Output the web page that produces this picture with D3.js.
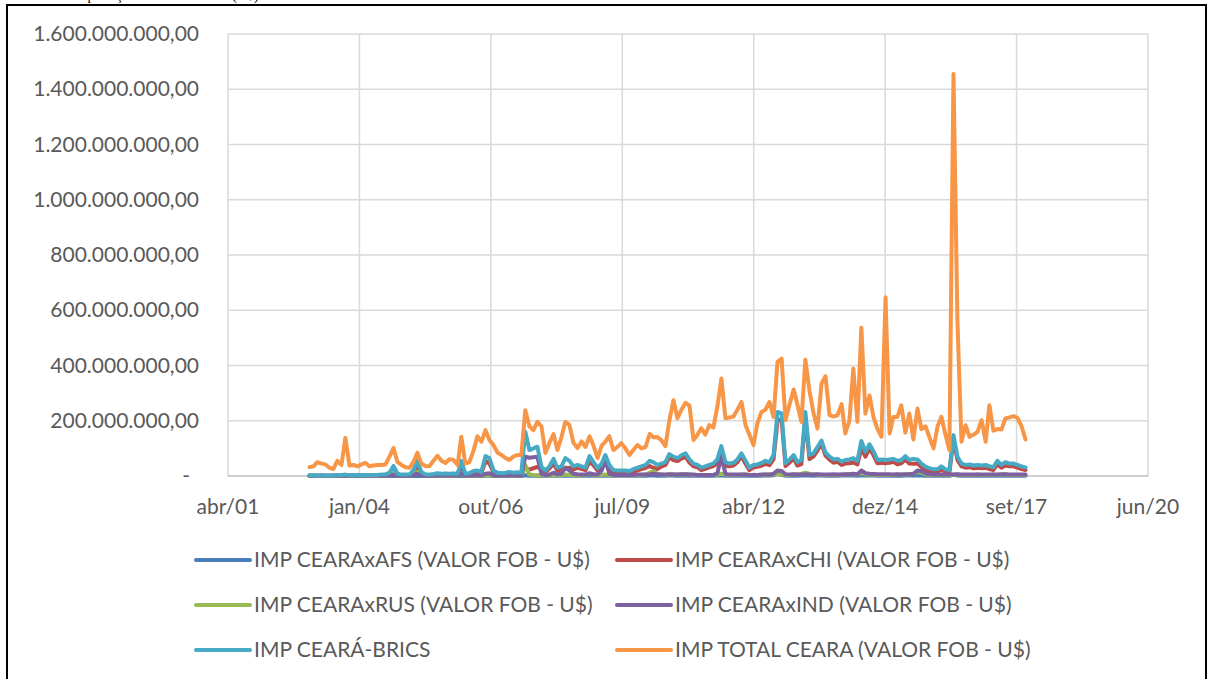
<!DOCTYPE html>
<html>
<head>
<meta charset="utf-8">
<script src="https://cdn.jsdelivr.net/npm/d3@7"></script>
<style>
  body { margin: 0; background: #fff; }
  svg { display: block; }
</style>
</head>
<body>
<div class="chart"></div>
<script>
// valores mensais em milhões de US$, jan/2003 a dez/2017
const firstMonth = new Date(2003, 0, 1)
const lastMonth = new Date(2017, 11, 1)

const impAFS = [
  0,0,0,0,0,0,0,0,0,0,0,0,0,0,0,0,0,0,0,0,
  0,1,0,0,0,0,0,1,0,0,0,0,0,0,0,0,0,0,1,0,
  0,0,1,0,1,1,0,0,0,0,0,0,0,0,3,1,1,1,0,0,
  1,1,1,1,1,1,1,1,1,1,2,1,1,1,2,1,1,1,1,1,
  1,1,1,1,1,2,2,1,1,1,2,2,1,1,2,1,1,1,1,1,
  1,1,2,2,1,1,1,1,2,1,1,1,1,1,2,2,3,8,4,1,
  1,2,1,2,3,2,1,2,2,1,1,1,1,2,2,2,2,1,3,2,
  2,2,1,1,1,1,1,1,1,2,2,2,3,2,1,1,1,1,1,1,
  1,5,2,1,1,1,1,1,1,1,1,1,2,1,1,1,1,1,1,1
]
const impCHI = [
  2,2,1,2,1,1,2,2,2,3,2,2,3,2,3,2,3,3,3,4,
  7,19,4,3,3,4,8,32,10,4,3,5,7,5,6,5,6,5,37,5,
  7,13,14,10,55,45,15,9,7,9,10,9,9,8,30,23,28,33,23,14,
  27,45,20,23,29,30,23,30,26,21,53,39,20,30,55,27,14,12,12,12,
  10,17,20,25,29,36,30,25,34,40,67,58,54,63,69,49,35,31,21,26,
  31,36,44,90,36,35,38,50,71,44,21,31,33,37,44,39,61,200,205,36,
  49,63,38,43,212,61,70,92,117,74,59,48,51,40,45,46,49,42,100,70,
  100,76,46,48,46,48,51,42,46,59,45,44,45,33,22,18,14,15,24,14,
  12,135,58,35,30,32,28,30,28,30,25,22,42,30,38,35,35,30,25,22
]
const impRUS = [
  0,0,0,0,0,0,0,0,1,1,0,0,0,0,0,0,0,0,1,1,
  3,12,2,1,1,1,8,15,3,1,1,1,1,1,1,1,1,1,8,1,
  1,2,2,2,3,4,2,1,1,1,2,1,2,2,40,5,4,3,2,2,
  2,4,3,3,5,4,3,3,3,3,8,4,3,4,5,4,3,3,3,3,
  3,3,4,4,5,12,18,8,5,4,5,6,5,5,6,5,4,4,4,4,
  4,4,5,8,5,4,4,4,5,5,4,4,4,4,5,5,6,8,5,4,
  4,5,5,8,12,8,5,5,4,4,4,4,4,5,5,6,6,5,12,6,
  5,5,4,4,4,4,4,5,5,5,5,8,15,12,6,4,4,4,4,4,
  4,4,5,4,4,4,4,5,4,4,4,5,4,5,5,4,4,4,4,4
]
const impIND = [
  1,1,1,1,1,1,1,1,1,1,1,1,1,1,1,1,1,1,1,1,
  2,5,2,1,1,1,4,8,2,1,1,1,2,2,2,2,2,2,10,2,
  2,3,4,3,8,10,3,2,2,2,3,2,3,2,70,66,68,70,8,4,
  5,12,6,8,30,20,8,6,5,5,10,6,5,20,58,8,4,4,4,4,
  4,4,5,5,5,6,8,6,5,5,6,5,5,6,6,5,5,4,4,4,
  4,4,10,70,8,5,5,5,5,5,4,4,4,5,5,5,8,20,18,6,
  5,6,5,5,6,5,5,6,5,5,5,6,5,5,6,6,8,6,20,10,
  8,7,6,6,6,6,5,6,5,6,6,8,20,18,10,6,5,5,5,5,
  5,5,6,5,5,5,5,5,5,5,5,5,5,6,6,5,5,5,5,5
]
const impBRICS = [
  3,3,2,3,2,2,3,3,4,5,3,3,4,3,4,3,4,4,5,6,
  12,36,8,5,5,6,20,55,15,6,5,7,10,8,9,8,9,8,55,8,
  10,18,20,15,72,65,20,12,10,12,15,12,14,12,160,94,100,106,33,20,
  35,62,30,35,65,55,35,40,35,30,72,50,29,45,76,40,22,20,20,20,
  18,25,30,35,40,55,50,40,45,50,79,70,65,75,82,60,45,40,30,35,
  40,45,60,108,50,45,48,60,82,55,30,40,42,47,55,50,76,232,226,47,
  60,76,50,58,232,76,82,105,128,85,70,60,62,52,58,60,65,55,127,88,
  115,90,58,60,58,60,62,55,58,72,58,62,60,45,34,28,24,25,35,24,
  22,148,70,45,40,42,38,40,38,40,35,32,55,40,50,45,45,40,35,31
]
const impTotal = [
  32,35,50,45,42,30,25,55,40,138,38,40,35,42,48,35,38,40,40,42,
  70,101,50,40,32,30,50,84,45,36,35,55,73,55,47,61,58,40,142,45,
  50,90,144,124,166,130,112,85,76,65,58,70,76,76,238,180,166,196,180,83,
  120,152,94,140,196,185,120,101,125,105,144,110,65,110,124,144,94,105,119,100,
  76,95,112,100,105,152,140,141,130,108,200,274,209,240,265,255,130,150,173,150,
  184,175,250,353,209,212,215,240,268,184,150,112,190,232,240,268,214,413,425,202,
  260,313,260,196,421,310,230,172,335,361,220,215,220,260,154,200,389,196,537,226,
  292,214,170,142,647,154,214,214,256,157,226,132,244,170,180,140,100,180,214,150,
  94,1455,560,124,184,142,150,160,202,124,256,164,170,168,208,212,217,210,180,132
]

const seriesNames = [
  'IMP CEARAxAFS (VALOR FOB - U$)',
  'IMP CEARAxCHI (VALOR FOB - U$)',
  'IMP CEARAxRUS (VALOR FOB - U$)',
  'IMP CEARAxIND (VALOR FOB - U$)',
  'IMP CEARÁ-BRICS',
  'IMP TOTAL CEARA (VALOR FOB - U$)'
]
const seriesColors = ['#4a7ebb', '#be4b48', '#98b954', '#7d60a0', '#46aac5', '#f79646']

// eixo de datas do Excel: início em abr/2001, unidade principal 1000 dias
const xStart = new Date(2001, 3, 21)
const xTickLabels = ['abr/01', 'jan/04', 'out/06', 'jul/09', 'abr/12', 'dez/14', 'set/17', 'jun/20']
const yTicks = [0, 200, 400, 600, 800, 1000, 1200, 1400, 1600]

const months = d3.timeMonth.range(firstMonth, d3.timeMonth.offset(lastMonth, 1))
const allSeries = [impAFS, impCHI, impRUS, impIND, impBRICS, impTotal]

const width = 1210
const height = 679
const svg = d3.select('.chart').append('svg').attr('width', width).attr('height', height)

const textColor = '#595959'
const font = 'Lato, "Open Sans", sans-serif'
const fontSize = 21

const x = d3.scaleTime()
  .domain([xStart, d3.timeDay.offset(xStart, 7000)])
  .range([228, 1148])
const y = d3.scaleLinear().domain([0, 1600]).range([476, 34])
const xTickDates = xTickLabels.map((d, i) => d3.timeDay.offset(xStart, i * 1000))

// título cortado no topo (fora da moldura), só as partes de baixo aparecem
svg.append('text')
  .attr('x', 72)
  .attr('y', 0)
  .attr('font-family', '"Liberation Serif", serif')
  .attr('font-size', 14)
  .attr('fill', '#000')
  .text('Importações totais do Ceará (U$)')

svg.append('rect')
  .attr('x', 7).attr('y', 5)
  .attr('width', 1199).attr('height', 700)
  .attr('fill', '#fff')
  .attr('stroke', '#000')
  .attr('stroke-width', 2)

const br = d3.formatLocale({decimal: ',', thousands: '.', grouping: [3], currency: ['', '']})
const fmt = br.format(',.2f')

// grade horizontal
svg.append('g')
  .selectAll('line')
  .data(yTicks.slice(1))
  .enter()
  .append('line')
  .attr('x1', 228).attr('x2', 1148)
  .attr('y1', d => y(d)).attr('y2', d => y(d))
  .attr('stroke', '#d9d9d9')
  .attr('stroke-width', 1.5)

// grade vertical
svg.append('g')
  .selectAll('line')
  .data(xTickDates)
  .enter()
  .append('line')
  .attr('x1', d => x(d)).attr('x2', d => x(d))
  .attr('y1', y(1600)).attr('y2', y(0))
  .attr('stroke', '#d9d9d9')
  .attr('stroke-width', 1.5)

// linha do eixo x
svg.append('line')
  .attr('x1', 228).attr('x2', 1148)
  .attr('y1', y(0)).attr('y2', y(0))
  .attr('stroke', '#bfbfbf')
  .attr('stroke-width', 1.5)

svg.append('g')
  .selectAll('text')
  .data(yTicks)
  .enter()
  .append('text')
  .attr('x', d => d === 0 ? 190 : 199)
  .attr('y', d => y(d))
  .attr('dy', 7)
  .attr('text-anchor', 'end')
  .attr('font-family', font)
  .attr('font-size', fontSize)
  .attr('fill', textColor)
  .text(d => d === 0 ? '-' : fmt(d * 1e6))

svg.append('g')
  .selectAll('text')
  .data(xTickDates)
  .enter()
  .append('text')
  .attr('x', d => x(d))
  .attr('y', 514)
  .attr('text-anchor', 'middle')
  .attr('font-family', font)
  .attr('font-size', fontSize)
  .attr('fill', textColor)
  .text((d, i) => xTickLabels[i])

const line = d3.line()
  .x((d, i) => x(months[i]))
  .y(d => y(d))

svg.append('g')
  .selectAll('path')
  .data(allSeries)
  .enter()
  .append('path')
  .attr('d', d => line(d))
  .attr('fill', 'none')
  .attr('stroke', (d, i) => seriesColors[i])
  .attr('stroke-width', 4)
  .attr('stroke-linejoin', 'round')
  .attr('stroke-linecap', 'round')

// legenda: 2 colunas x 3 linhas
const legendCols = [196, 617]
const legendRows = [560, 605, 650]
const legend = svg.append('g')
  .selectAll('g')
  .data(seriesNames)
  .enter()
  .append('g')
  .attr('transform', (d, i) => `translate(${legendCols[i % 2]},${legendRows[Math.floor(i / 2)]})`)
legend.append('line')
  .attr('x1', 0).attr('x2', 54)
  .attr('stroke', (d, i) => seriesColors[i])
  .attr('stroke-width', 4)
  .attr('stroke-linecap', 'round')
legend.append('text')
  .attr('x', 58)
  .attr('dy', 7)
  .attr('font-family', font)
  .attr('font-size', fontSize)
  .attr('fill', textColor)
  .text(d => d)
</script>
</body>
</html>
